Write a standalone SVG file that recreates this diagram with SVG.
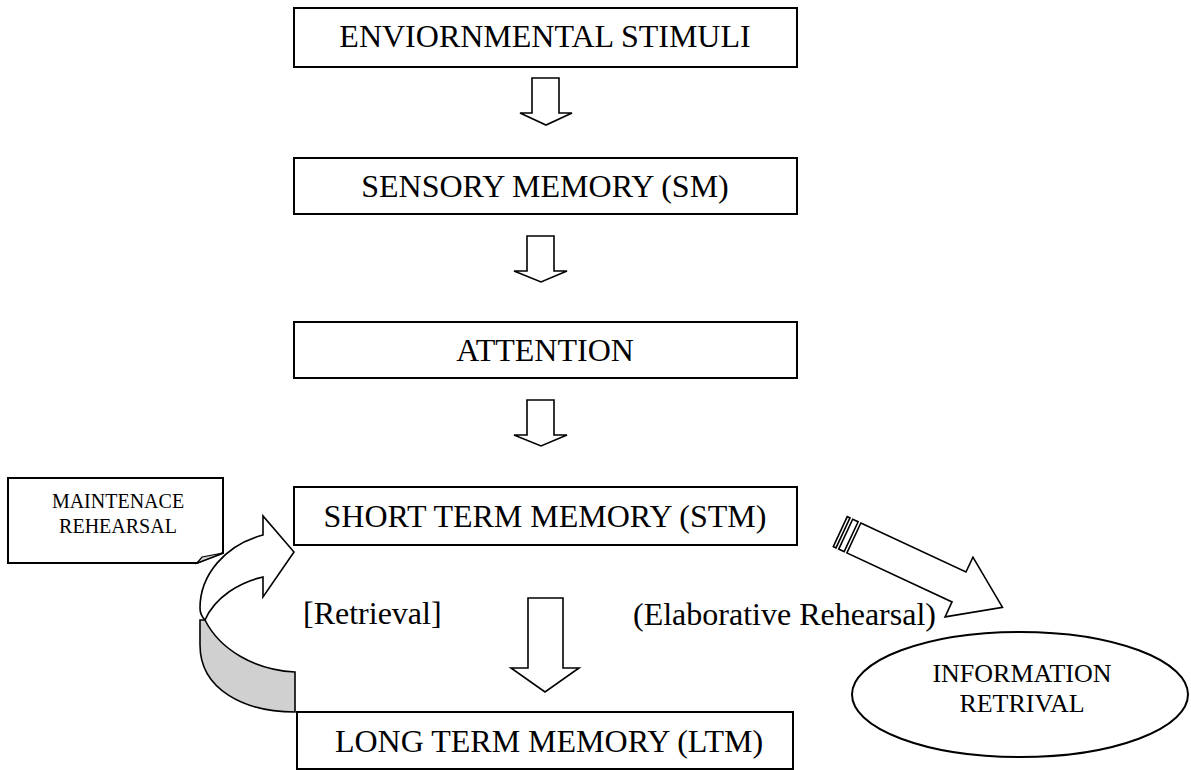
<svg xmlns="http://www.w3.org/2000/svg" width="1191" height="770" viewBox="0 0 1191 770">
<style>
.box{fill:#fff;stroke:#000;stroke-width:2}
.t{font-family:"Liberation Serif","Times New Roman",serif;fill:#000;text-anchor:middle}
.big{font-size:32px}
.arr{fill:#fff;stroke:#000;stroke-width:1.6;stroke-linejoin:miter}
</style>
<rect width="1191" height="770" fill="#fff"/>
<g id="connectors">
<polygon class="arr" points="532,78 559,78 559,113 572,113 546,125 520,113 532,113"/>
<polygon class="arr" points="527,236 554,236 554,271 567,271 541,282 514,271 527,271"/>
<polygon class="arr" points="527,400 554,400 554,435 567,435 541,446 514,435 527,435"/>
<polygon class="arr" points="528,598 563,598 563,668 579,668 545,692 511,668 528,668"/>
<g id="maint-arrow">
<path d="M295,672 C255,670 220,650 205,620 L200,620 L200,645 C200,690 245,712 295,712 Z" fill="#d0d0d0" stroke="#000" stroke-width="1.6"/>
<path d="M263,535 L263,516 L294,552 L263,597 L263,577 C240,582 215,597 205,620 C201,616 200,612 200,608 C200,575 225,545 263,535 Z" class="arr"/>
</g>
<g id="elab-arrow" transform="translate(959,587) rotate(25)">
<rect x="-131" y="-16.5" width="3" height="33" class="arr"/>
<rect x="-125" y="-16.5" width="6" height="33" class="arr"/>
<polygon class="arr" points="-116,-16.5 0,-16.5 0,-33 48,0 0,33 0,16.5 -116,16.5"/>
</g>
</g>
<g id="env">
<rect class="box" x="294" y="8" width="503" height="59"/>
<text class="t big" x="545" y="47">ENVIORNMENTAL STIMULI</text>
</g>
<g id="sm">
<rect class="box" x="294" y="158" width="503" height="56"/>
<text class="t big" x="545" y="197">SENSORY MEMORY (SM)</text>
</g>
<g id="att">
<rect class="box" x="294" y="322" width="503" height="56"/>
<text class="t big" x="545" y="361">ATTENTION</text>
</g>
<g id="stm">
<rect class="box" x="294" y="487" width="503" height="58"/>
<text class="t big" x="545" y="527">SHORT TERM MEMORY (STM)</text>
</g>
<g id="ltm">
<rect class="box" x="297" y="712" width="496" height="57"/>
<text class="t big" x="549" y="752">LONG TERM MEMORY (LTM)</text>
</g>
<g id="maint-note">
<polygon points="8,478 223,478 223,553 197,563 8,563" fill="#fff" stroke="#000" stroke-width="2"/>
<polygon points="197,563 202,557 223,553" fill="#d0d0d0" stroke="#000" stroke-width="1.2"/>
<text class="t" font-size="20" x="118" y="508">MAINTENACE</text>
<text class="t" font-size="20" x="118" y="533">REHEARSAL</text>
</g>
<g id="labels">
<text class="t big" x="303" y="624" text-anchor="start" style="text-anchor:start">[Retrieval]</text>
<text class="t big" x="633" y="625" style="text-anchor:start">(Elaborative Rehearsal)</text>
</g>
<g id="info">
<ellipse cx="1020" cy="694.5" rx="168" ry="62.5" fill="#fff" stroke="#000" stroke-width="2"/>
<text class="t" font-size="26" x="1022" y="682">INFORMATION</text>
<text class="t" font-size="26" x="1022" y="712">RETRIVAL</text>
</g>
</svg>
